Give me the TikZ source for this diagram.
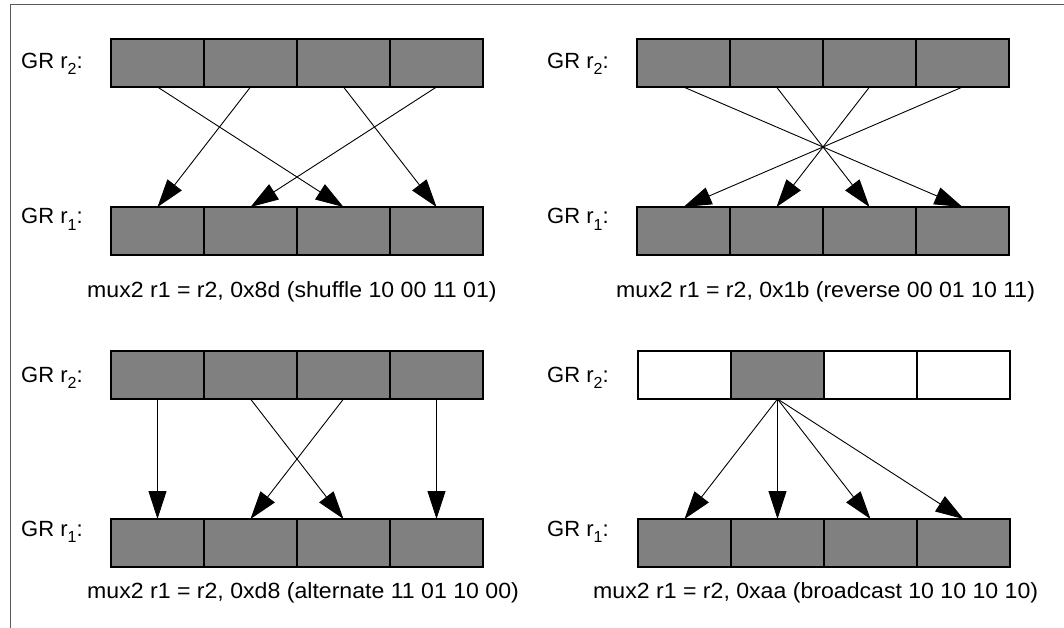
\documentclass[tikz,border=0pt]{standalone}
\usepackage{fontspec}
\setmainfont{Liberation Sans}
\usetikzlibrary{arrows.meta}
\definecolor{cellgray}{RGB}{128,128,128}
\definecolor{framegray}{RGB}{90,90,90}
\newcommand\sbs[1]{\raisebox{-6pt}{\fontsize{16}{16}\selectfont #1}}
\begin{document}
\begin{tikzpicture}[x=1pt,y=-1pt,
  cell/.style={draw=black, line width=2.2pt, fill=cellgray, minimum width=93pt,
    minimum height=48pt, inner sep=0pt, outer sep=0pt, anchor=north west},
  emptycell/.style={cell, fill=white},
  lbl/.style={anchor=base west, inner sep=0pt, font=\fontsize{22}{22}\selectfont},
  captxt/.style={anchor=base west, inner sep=0pt, xscale=1.05, font=\fontsize{22}{22}\selectfont},
  arr/.style={line width=0.9pt, -{Triangle[length=28pt,width=18pt]}},
  frameline/.style={line width=1pt, draw=framegray}]
\useasboundingbox (0,0) rectangle (1064,628);
% frame
\coordinate (f1) at (10,628);
\coordinate (f2) at (10,5);
\coordinate (f3) at (1064,5);
\draw[frameline] (f1) -- (f2) -- (f3);

% registers
\foreach \n/\x/\y in {A2/111/39, A1/111/207, B2/637/39, B1/637/207,
                       C2/111/351, C1/111/519, D1/638/519}{
  \foreach \i in {0,1,2,3}{
    \node[cell] (\n-\i) at ({\x+93*\i},\y) {};
  }
}
\node[emptycell] (D2-0) at (638,351) {};
\node[cell]      (D2-1) at (731,351) {};
\node[emptycell] (D2-2) at (824,351) {};
\node[emptycell] (D2-3) at (917,351) {};

% labels
\node[lbl] (lA2) at (21,69)  {GR r\sbs{2}:};
\node[lbl] (lA1) at (21,224) {GR r\sbs{1}:};
\node[lbl] (lB2) at (547,69)  {GR r\sbs{2}:};
\node[lbl] (lB1) at (547,224) {GR r\sbs{1}:};
\node[lbl] (lC2) at (21,382)  {GR r\sbs{2}:};
\node[lbl] (lC1) at (21,536) {GR r\sbs{1}:};
\node[lbl] (lD2) at (547,382)  {GR r\sbs{2}:};
\node[lbl] (lD1) at (547,536) {GR r\sbs{1}:};

% captions
\node[captxt] (cA) at (87,297)  {mux2 r1 = r2, 0x8d (shuffle 10 00 11 01)};
\node[captxt] (cB) at (616,297) {mux2 r1 = r2, 0x1b (reverse 00 01 10 11)};
\node[captxt] (cC) at (87,598)  {mux2 r1 = r2, 0xd8 (alternate 11 01 10 00)};
\node[captxt] (cD) at (593,598) {mux2 r1 = r2, 0xaa (broadcast 10 10 10 10)};

% shuffle
\draw[arr] (A2-0.south) -- (A1-2.north);
\draw[arr] (A2-1.south) -- (A1-0.north);
\draw[arr] (A2-2.south) -- (A1-3.north);
\draw[arr] (A2-3.south) -- (A1-1.north);
% reverse
\draw[arr] (B2-0.south) -- (B1-3.north);
\draw[arr] (B2-1.south) -- (B1-2.north);
\draw[arr] (B2-2.south) -- (B1-1.north);
\draw[arr] (B2-3.south) -- (B1-0.north);
% alternate
\draw[arr] (C2-0.south) -- (C1-0.north);
\draw[arr] (C2-1.south) -- (C1-2.north);
\draw[arr] (C2-2.south) -- (C1-1.north);
\draw[arr] (C2-3.south) -- (C1-3.north);
% broadcast
\draw[arr] (D2-1.south) -- (D1-0.north);
\draw[arr] (D2-1.south) -- (D1-1.north);
\draw[arr] (D2-1.south) -- (D1-2.north);
\draw[arr] (D2-1.south) -- (D1-3.north);
\end{tikzpicture}
\end{document}
